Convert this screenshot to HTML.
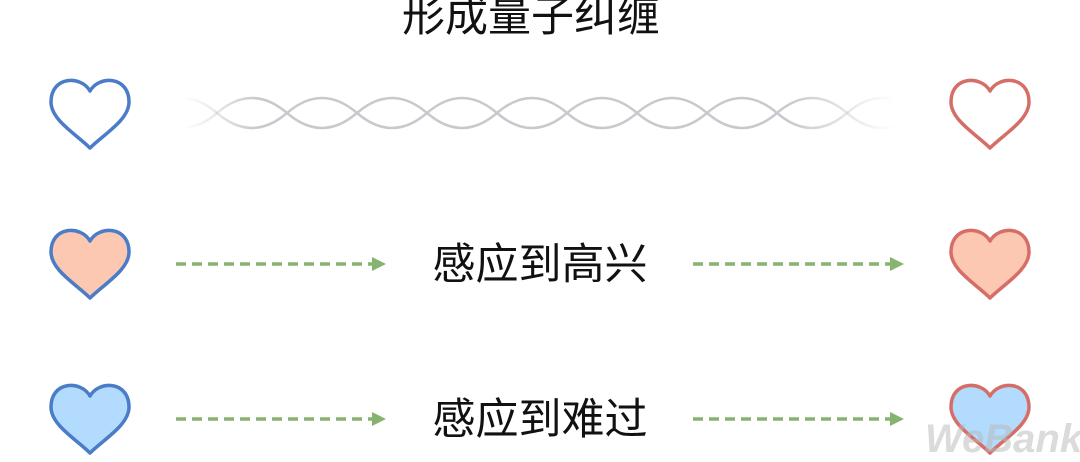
<!DOCTYPE html>
<html><head><meta charset="utf-8"><style>
html,body{margin:0;padding:0;background:#fff;width:1080px;height:462px;overflow:hidden}
svg{display:block}
text{font-family:"Liberation Sans","Noto Sans CJK SC",sans-serif}
</style></head><body>
<svg width="1080" height="462" viewBox="0 0 1080 462" xmlns="http://www.w3.org/2000/svg">
<defs>
<path id="h" d="M40,13 C31,-3 1,-2 1,24 C1,42 26,56 40,70 C54,56 79,42 79,24 C79,-2 49,-3 40,13 Z"/>
<linearGradient id="fade" x1="185" y1="0" x2="895" y2="0" gradientUnits="userSpaceOnUse">
<stop offset="0" stop-color="#c8c9ce" stop-opacity="0"/>
<stop offset="0.1" stop-color="#c8c9ce" stop-opacity="1"/>
<stop offset="0.85" stop-color="#c8c9ce" stop-opacity="1"/>
<stop offset="1" stop-color="#c8c9ce" stop-opacity="0"/>
</linearGradient>
</defs>
<text x="531" y="31" font-size="43" text-anchor="middle" fill="#111">形成量子纠缠</text>

<use href="#h" x="50" y="78" fill="#fff" stroke="#4a7cc7" stroke-width="3.5" stroke-linejoin="round"/>
<use href="#h" x="950" y="78" fill="#fff" stroke="#d66e68" stroke-width="3.5" stroke-linejoin="round"/>
<g fill="none" stroke="url(#fade)" stroke-width="2.5">
<path d="M147,113 q35,-30 70,0 t70,0 t70,0 t70,0 t70,0 t70,0 t70,0 t70,0 t70,0 t70,0 t70,0"/>
<path d="M147,113 q35,30 70,0 t70,0 t70,0 t70,0 t70,0 t70,0 t70,0 t70,0 t70,0 t70,0 t70,0"/>
</g>

<use href="#h" x="50" y="228" fill="#fcc8b2" stroke="#4a7cc7" stroke-width="3.5" stroke-linejoin="round"/>
<use href="#h" x="950" y="228" fill="#fcc8b2" stroke="#d66e68" stroke-width="3.5" stroke-linejoin="round"/>
<g stroke="#86b46e" stroke-width="3.5" stroke-dasharray="10,6" fill="none">
<line x1="176" y1="264" x2="372" y2="264"/>
<line x1="693" y1="264" x2="890" y2="264"/>
<line x1="176" y1="419" x2="372" y2="419"/>
<line x1="693" y1="419" x2="890" y2="419"/>
</g>
<g fill="#86b46e">
<polygon points="372,257 386,264 372,271"/>
<polygon points="890,257 904,264 890,271"/>
<polygon points="372,412 386,419 372,426"/>
<polygon points="890,412 904,419 890,426"/>
</g>
<text x="540" y="279" font-size="43" text-anchor="middle" fill="#111">感应到高兴</text>

<use href="#h" x="50" y="383" fill="#b2dbfd" stroke="#4a7cc7" stroke-width="3.5" stroke-linejoin="round"/>
<use href="#h" x="950" y="383" fill="#b2dbfd" stroke="#d66e68" stroke-width="3.5" stroke-linejoin="round"/>
<text x="540" y="434" font-size="43" text-anchor="middle" fill="#111">感应到难过</text>

<text x="925" y="452" font-size="40" font-weight="bold" font-style="italic" fill="#b8b8b8" fill-opacity="0.5">WeBank</text>
</svg>
</body></html>
